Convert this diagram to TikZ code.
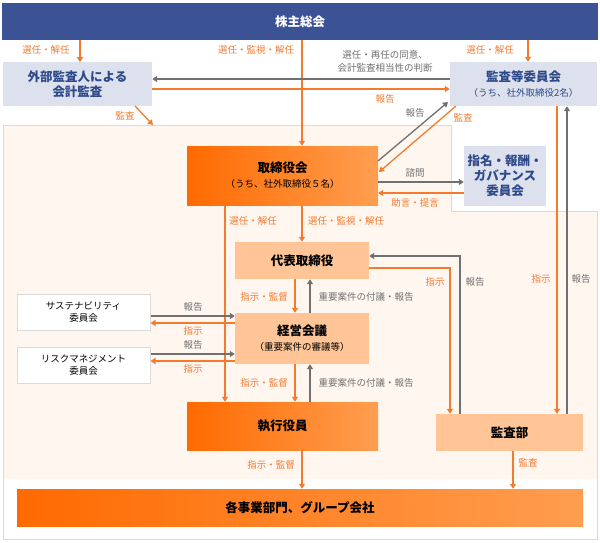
\documentclass[tikz,border=0pt]{standalone}
\usepackage{fontspec}
\setmainfont{Noto Sans CJK JP}
\usepackage{tikz}
\usetikzlibrary{arrows.meta,positioning}
\definecolor{navy}{HTML}{3B5294}
\definecolor{paleblue}{HTML}{DDE1ED}
\definecolor{bluetext}{HTML}{2F4A8A}
\definecolor{orng}{HTML}{F47A2E}
\definecolor{deeporng}{HTML}{FF6A00}
\definecolor{softorng}{HTML}{FF9E50}
\definecolor{lightorng}{HTML}{FFC596}
\definecolor{paleorng}{HTML}{FFF6F0}
\definecolor{lineorng}{HTML}{FFD0AE}
\definecolor{gry}{HTML}{707070}
\tikzset{
  box/.style={inner sep=0pt, align=center, font=\bfseries\fontsize{12.5}{15}\selectfont},
  bluebox/.style={box, fill=paleblue, text=bluetext},
  hotbox/.style={box, left color=deeporng, right color=softorng, text=black},
  litebox/.style={box, fill=lightorng, text=black},
  whitebox/.style={box, fill=white, draw=black!15, line width=1pt, font=\fontsize{9.5}{12}\selectfont},
  oarr/.style={draw=orng, line width=1.3pt, -{Triangle[length=5pt,width=6pt]}},
  garr/.style={draw=gry, line width=1.3pt, -{Triangle[length=5pt,width=6pt]}},
  olab/.style={text=orng, font=\fontsize{9.5}{11}\selectfont, inner sep=1pt},
  glab/.style={text=gry, font=\fontsize{9.5}{13}\selectfont, inner sep=1pt, align=center}
}
\begin{document}
\begin{tikzpicture}[x=1pt,y=-1pt]
    \useasboundingbox (0,0) rectangle (600,542);
    % Background area
    \fill[paleorng] (3,125) -- (451,125) -- (451,211) -- (597,211) -- (597,479) -- (3,479) -- cycle;
    \draw[lineorng, line width=1pt] (3,125) -- (451,125) -- (451,211) -- (597,211) -- (597,539) -- (3,539) -- cycle;

    % Top level
    \node[box, fill=navy, text=white, minimum width=596, minimum height=37] (agm) at (300,21.5) {株主総会};
    \node[bluebox, minimum width=149, minimum height=44] (auditor) at (77.5,84) {外部監査人による\\会計監査};
    \node[bluebox, minimum width=147, minimum height=44] (acomm) at (523.5,84) {監査等委員会\\{\mdseries\fontsize{9.5}{14}\selectfont（うち、社外取締役2名）}};

    % Board and committees
    \node[hotbox, minimum width=191, minimum height=59] (board) at (282.5,175.5) {取締役会\\{\mdseries\fontsize{9.5}{15}\selectfont（うち、社外取締役５名）}};
    \node[bluebox, minimum width=82, minimum height=60] (nomin) at (505,176) {指名・報酬・\\ガバナンス\\委員会};
    \node[litebox, minimum width=134, minimum height=37] (rep) at (302,260.5) {代表取締役};
    \node[litebox, minimum width=134, minimum height=51] (mgmt) at (302,338.5) {経営会議\\{\mdseries\fontsize{9.5}{14}\selectfont（重要案件の審議等）}};
    \node[whitebox, minimum width=133, minimum height=36] (sust) at (83.5,312) {サステナビリティ\\委員会};
    \node[whitebox, minimum width=133, minimum height=36] (risk) at (83.5,365) {リスクマネジメント\\委員会};
    \node[hotbox, minimum width=191, minimum height=48] (exec) at (282.5,426) {執行役員};
    \node[litebox, minimum width=147, minimum height=37] (iaudit) at (509.5,432.5) {監査部};
    \node[hotbox, minimum width=566, minimum height=37] (biz) at (300,507.5) {各事業部門、グループ会社};

    % From the shareholders
    \draw[oarr] (agm.south -| auditor.north) ++(2.5,0) -- ++(0,22);
    \node[olab] (l1) at (46,50) {選任・解任};
    \draw[oarr] (agm.south -| 528,0) -- (acomm.north -| 528,0);
    \node[olab] (l2) at (490,50) {選任・解任};
    \draw[oarr] (agm.south -| 302,0) -- (board.north -| 302,0);
    \node[olab] (l3) at (256,50) {選任・監視・解任};

    % Auditor and audit committee
    \draw[garr] (acomm.west |- 0,79) -- (auditor.east |- 0,79);
    \node[glab] (l4) at (385,61) {選任・再任の同意、\\会計監査相当性の判断};
    \draw[oarr] (auditor.east |- 0,89) -- (acomm.west |- 0,89);
    \node[olab] (l5) at (385,99) {報告};
    \coordinate (aud1) at (153,125);
    \draw[oarr] (135,106) -- (aud1);
    \node[olab] (l6) at (125,116) {監査};

    % Board and audit committee
    \draw[garr] (378,161) -- (448,102);
    \node[glab] (l7) at (415,113) {報告};
    \draw[oarr] (456,106) -- (379,172);
    \node[olab] (l8) at (463,118) {監査};
    \draw[garr] (board.east |- 0,182) -- (nomin.west |- 0,182);
    \node[glab] (l9) at (415,173) {諮問};
    \draw[oarr] (nomin.west |- 0,193) -- (board.east |- 0,193);
    \node[olab] (l10) at (415,203) {助言・提言};

    % Board downwards
    \draw[oarr] (board.south -| 225,0) -- (exec.north -| 225,0);
    \node[olab] (l11) at (253,221) {選任・解任};
    \draw[oarr] (board.south -| 302,0) -- (rep.north -| 302,0);
    \node[olab] (l12) at (346,221) {選任・監視・解任};

    % Representative director and management meeting
    \draw[oarr] (rep.south -| 295,0) -- (mgmt.north -| 295,0);
    \node[olab] (l13) at (264,297) {指示・監督};
    \draw[garr] (mgmt.north -| 310,0) -- (rep.south -| 310,0);
    \node[glab] (l14) at (366,297) {重要案件の付議・報告};
    \draw[oarr] (mgmt.south -| 295,0) -- (exec.north -| 295,0);
    \node[olab] (l15) at (264,383) {指示・監督};
    \draw[garr] (exec.north -| 310,0) -- (mgmt.south -| 310,0);
    \node[glab] (l16) at (366,383) {重要案件の付議・報告};

    % Committees
    \draw[garr] (sust.east |- 0,316) -- (mgmt.west |- 0,316);
    \node[glab] (l17) at (193,307) {報告};
    \draw[oarr] (mgmt.west |- 0,323) -- (sust.east |- 0,323);
    \node[olab] (l18) at (193,331) {指示};
    \draw[garr] (risk.east |- 0,354) -- (mgmt.west |- 0,354);
    \node[glab] (l19) at (193,345) {報告};
    \draw[oarr] (mgmt.west |- 0,361) -- (risk.east |- 0,361);
    \node[olab] (l20) at (193,369) {指示};

    % Internal audit
    \draw[oarr] (rep.east |- 0,268) -- (450,268) -- (iaudit.north -| 450,0);
    \node[olab] (l21) at (435,282) {指示};
    \draw[garr] (iaudit.north -| 460,0) -- (460,256) -- (rep.east |- 0,256);
    \node[glab] (l22) at (475,282) {報告};
    \draw[oarr] (acomm.south -| 557,0) -- (iaudit.north -| 557,0);
    \node[olab] (l23) at (541,279) {指示};
    \draw[garr] (iaudit.north -| 567,0) -- (acomm.south -| 567,0);
    \node[glab] (l24) at (581,279) {報告};

    % To business divisions
    \draw[oarr] (exec.south -| 302,0) -- (biz.north -| 302,0);
    \node[olab] (l25) at (271,465) {指示・監督};
    \draw[oarr] (iaudit.south -| 513,0) -- (biz.north -| 513,0);
    \node[olab] (l26) at (528,463) {監査};
\end{tikzpicture}
\end{document}
